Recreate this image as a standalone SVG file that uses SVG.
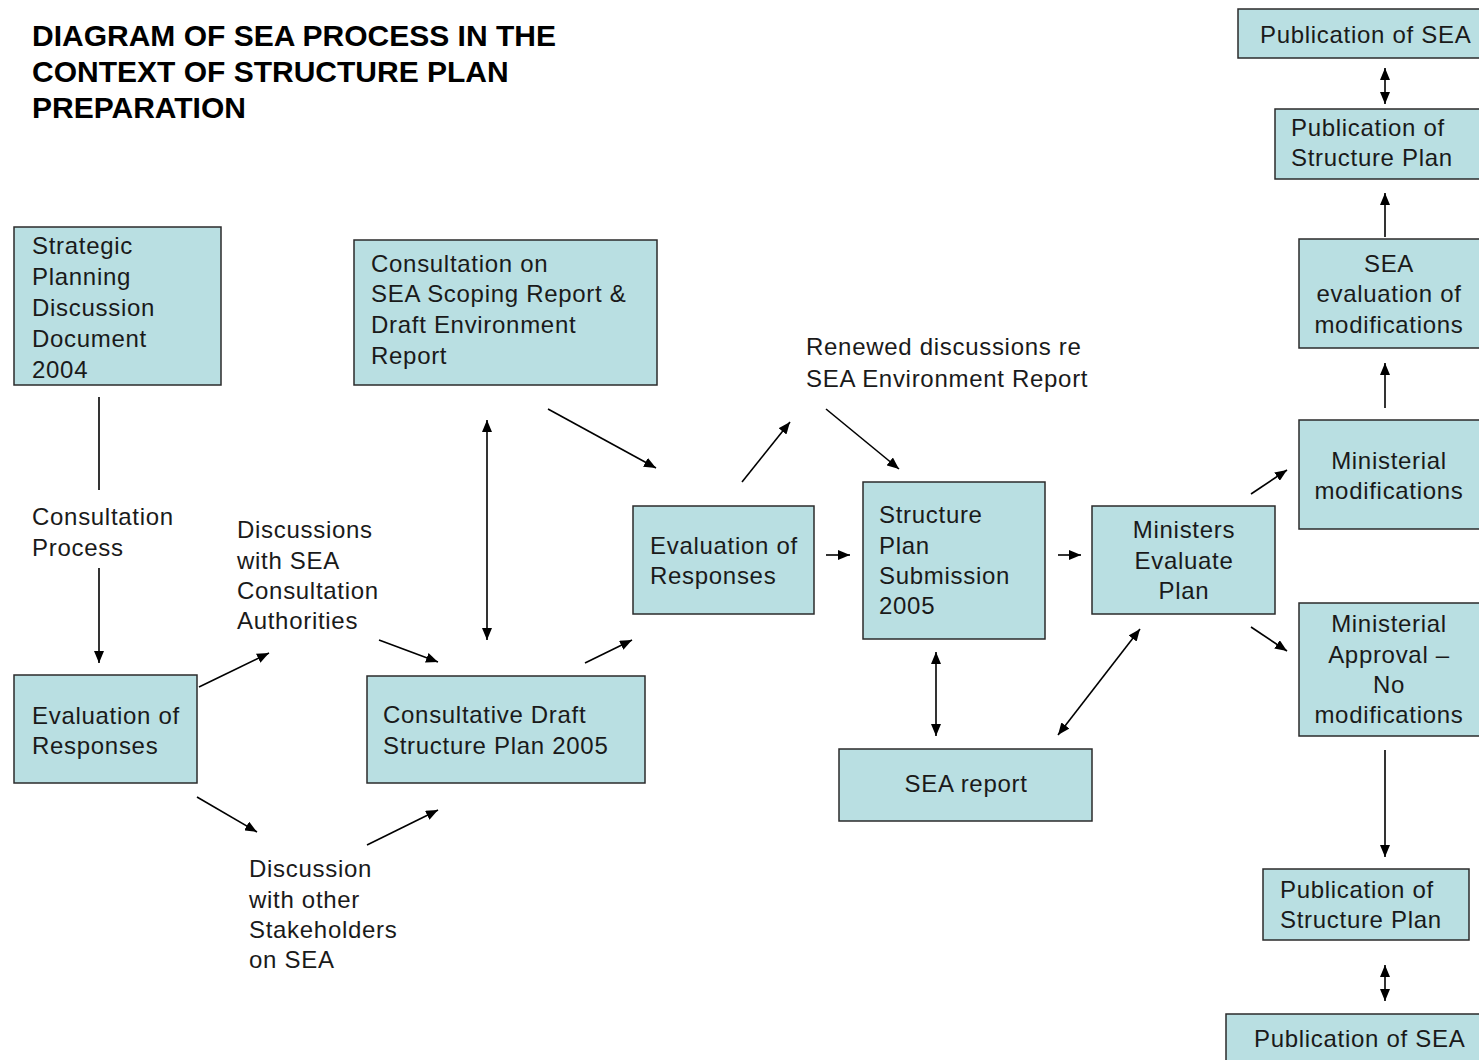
<svg xmlns="http://www.w3.org/2000/svg" width="1479" height="1060" viewBox="0 0 1479 1060">
<style>
.box{fill:#b9dfe2;stroke:#2b2b2b;stroke-width:1.5}
.t{font-family:"Liberation Sans",Arial,sans-serif;font-size:24px;fill:#1a1a1a;letter-spacing:0.7px}
.c{text-anchor:middle}
.title{font-family:"Liberation Sans",Arial,sans-serif;font-size:30px;font-weight:bold;fill:#000}
.ln{stroke:#000;stroke-width:1.6;fill:none}
</style>
<defs>
<marker id="ah" viewBox="0 0 12 10" refX="12" refY="5" markerWidth="12" markerHeight="10" markerUnits="userSpaceOnUse" orient="auto-start-reverse">
<path d="M0,0 L12,5 L0,10 z" fill="#000"/>
</marker>
</defs>
<rect width="1479" height="1060" fill="#fff"/>
<g id="title">
<text class="title" x="32" y="46">DIAGRAM OF SEA PROCESS IN THE</text>
<text class="title" x="32" y="82">CONTEXT OF STRUCTURE PLAN</text>
<text class="title" x="32" y="118">PREPARATION</text>
</g>
<g id="connectors">
<line class="ln" x1="99" y1="397" x2="99" y2="490"/>
<line class="ln" x1="99" y1="568" x2="99" y2="663" marker-end="url(#ah)"/>
<line class="ln" x1="199" y1="687" x2="269" y2="653" marker-end="url(#ah)"/>
<line class="ln" x1="197" y1="797" x2="257" y2="832" marker-end="url(#ah)"/>
<line class="ln" x1="379" y1="640" x2="438" y2="662" marker-end="url(#ah)"/>
<line class="ln" x1="367" y1="845" x2="438" y2="810" marker-end="url(#ah)"/>
<line class="ln" x1="487" y1="420" x2="487" y2="640" marker-start="url(#ah)" marker-end="url(#ah)"/>
<line class="ln" x1="548" y1="409" x2="656" y2="468" marker-end="url(#ah)"/>
<line class="ln" x1="585" y1="663" x2="632" y2="640" marker-end="url(#ah)"/>
<line class="ln" x1="742" y1="482" x2="790" y2="422" marker-end="url(#ah)"/>
<line class="ln" x1="826" y1="409" x2="899" y2="469" marker-end="url(#ah)"/>
<line class="ln" x1="826" y1="555" x2="850" y2="555" marker-end="url(#ah)"/>
<line class="ln" x1="1058" y1="555" x2="1081" y2="555" marker-end="url(#ah)"/>
<line class="ln" x1="936" y1="652" x2="936" y2="736" marker-start="url(#ah)" marker-end="url(#ah)"/>
<line class="ln" x1="1058" y1="735" x2="1140" y2="629" marker-start="url(#ah)" marker-end="url(#ah)"/>
<line class="ln" x1="1251" y1="494" x2="1287" y2="470" marker-end="url(#ah)"/>
<line class="ln" x1="1251" y1="627" x2="1287" y2="651" marker-end="url(#ah)"/>
<line class="ln" x1="1385" y1="408" x2="1385" y2="363" marker-end="url(#ah)"/>
<line class="ln" x1="1385" y1="237" x2="1385" y2="193" marker-end="url(#ah)"/>
<line class="ln" x1="1385" y1="68" x2="1385" y2="104" marker-start="url(#ah)" marker-end="url(#ah)"/>
<line class="ln" x1="1385" y1="750" x2="1385" y2="857" marker-end="url(#ah)"/>
<line class="ln" x1="1385" y1="965" x2="1385" y2="1001" marker-start="url(#ah)" marker-end="url(#ah)"/>
</g>
<g id="strategic">
<rect class="box" x="14" y="227" width="207" height="158"/>
<text class="t" x="32" y="254">Strategic</text>
<text class="t" x="32" y="285">Planning</text>
<text class="t" x="32" y="316">Discussion</text>
<text class="t" x="32" y="347">Document</text>
<text class="t" x="32" y="378">2004</text>
</g>
<g id="evaluation1">
<rect class="box" x="14" y="675" width="183" height="108"/>
<text class="t" x="32" y="724">Evaluation of</text>
<text class="t" x="32" y="754">Responses</text>
</g>
<g id="consultation-scoping">
<rect class="box" x="354" y="240" width="303" height="145"/>
<text class="t" x="371" y="272">Consultation on</text>
<text class="t" x="371" y="302">SEA Scoping Report &amp;</text>
<text class="t" x="371" y="333">Draft Environment</text>
<text class="t" x="371" y="364">Report</text>
</g>
<g id="consultative-draft">
<rect class="box" x="367" y="676" width="278" height="107"/>
<text class="t" x="383" y="723">Consultative Draft</text>
<text class="t" x="383" y="754">Structure Plan 2005</text>
</g>
<g id="evaluation2">
<rect class="box" x="633" y="506" width="181" height="108"/>
<text class="t" x="650" y="554">Evaluation of</text>
<text class="t" x="650" y="584">Responses</text>
</g>
<g id="submission">
<rect class="box" x="863" y="482" width="182" height="157"/>
<text class="t" x="879" y="523">Structure</text>
<text class="t" x="879" y="554">Plan</text>
<text class="t" x="879" y="584">Submission</text>
<text class="t" x="879" y="614">2005</text>
</g>
<g id="sea-report">
<rect class="box" x="839" y="749" width="253" height="72"/>
<text class="t c" x="966" y="792">SEA report</text>
</g>
<g id="ministers-evaluate">
<rect class="box" x="1092" y="506" width="183" height="108"/>
<text class="t c" x="1184" y="538">Ministers</text>
<text class="t c" x="1184" y="569">Evaluate</text>
<text class="t c" x="1184" y="599">Plan</text>
</g>
<g id="ministerial-modifications">
<rect class="box" x="1299" y="420" width="190" height="109"/>
<text class="t c" x="1389" y="469">Ministerial</text>
<text class="t c" x="1389" y="499">modifications</text>
</g>
<g id="ministerial-approval">
<rect class="box" x="1299" y="603" width="190" height="133"/>
<text class="t c" x="1389" y="632">Ministerial</text>
<text class="t c" x="1389" y="663">Approval –</text>
<text class="t c" x="1389" y="693">No</text>
<text class="t c" x="1389" y="723">modifications</text>
</g>
<g id="sea-evaluation">
<rect class="box" x="1299" y="239" width="190" height="109"/>
<text class="t c" x="1389" y="272">SEA</text>
<text class="t c" x="1389" y="302">evaluation of</text>
<text class="t c" x="1389" y="333">modifications</text>
</g>
<g id="pub-plan-top">
<rect class="box" x="1275" y="109" width="214" height="70"/>
<text class="t" x="1291" y="136">Publication of</text>
<text class="t" x="1291" y="166">Structure Plan</text>
</g>
<g id="pub-sea-top">
<rect class="box" x="1238" y="9" width="251" height="49"/>
<text class="t" x="1260" y="43">Publication of SEA</text>
</g>
<g id="pub-plan-bottom">
<rect class="box" x="1263" y="869" width="206" height="71"/>
<text class="t" x="1280" y="898">Publication of</text>
<text class="t" x="1280" y="928">Structure Plan</text>
</g>
<g id="pub-sea-bottom">
<rect class="box" x="1226" y="1014" width="263" height="56"/>
<text class="t" x="1254" y="1047">Publication of SEA</text>
</g>
<g id="labels">
<text class="t" x="32" y="525">Consultation</text>
<text class="t" x="32" y="556">Process</text>
<text class="t" x="237" y="538">Discussions</text>
<text class="t" x="237" y="569">with SEA</text>
<text class="t" x="237" y="599">Consultation</text>
<text class="t" x="237" y="629">Authorities</text>
<text class="t" x="249" y="877">Discussion</text>
<text class="t" x="249" y="908">with other</text>
<text class="t" x="249" y="938">Stakeholders</text>
<text class="t" x="249" y="968">on SEA</text>
<text class="t" x="806" y="355">Renewed discussions re</text>
<text class="t" x="806" y="387">SEA Environment Report</text>
</g>
</svg>
